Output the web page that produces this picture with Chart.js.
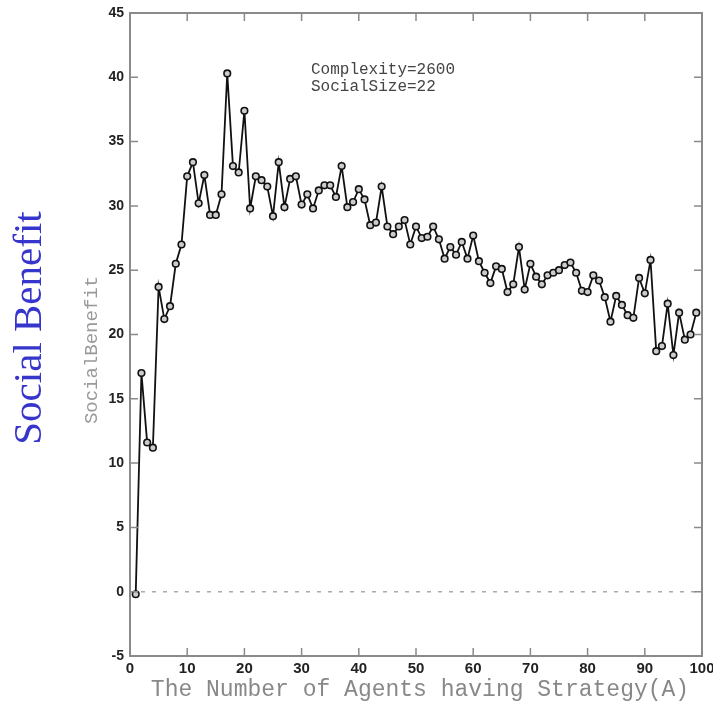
<!DOCTYPE html>
<html>
<head>
<meta charset="utf-8">
<script src="https://cdn.jsdelivr.net/npm/chart.js@4"></script>
<style>
  html, body { margin: 0; padding: 0; background: #fff; }
  #chart { display: block; }
</style>
</head>
<body>
<canvas id="chart" width="713" height="707"></canvas>
<script>
// social benefit for 1..99 agents having strategy A
const firstAgent = 1
const socialBenefit = [
  -0.2, 17.0, 11.6, 11.2, 23.7, 21.2, 22.2, 25.5, 27.0, 32.3,
  33.4, 30.2, 32.4, 29.3, 29.3, 30.9, 40.3, 33.1, 32.6, 37.4,
  29.8, 32.3, 32.0, 31.5, 29.2, 33.4, 29.9, 32.1, 32.3, 30.1,
  30.9, 29.8, 31.2, 31.6, 31.6, 30.7, 33.1, 29.9, 30.3, 31.3,
  30.5, 28.5, 28.7, 31.5, 28.4, 27.8, 28.4, 28.9, 27.0, 28.4,
  27.5, 27.6, 28.4, 27.4, 25.9, 26.8, 26.2, 27.2, 25.9, 27.7,
  25.7, 24.8, 24.0, 25.3, 25.1, 23.3, 23.9, 26.8, 23.5, 25.5,
  24.5, 23.9, 24.6, 24.8, 25.0, 25.4, 25.6, 24.8, 23.4, 23.3,
  24.6, 24.2, 22.9, 21.0, 23.0, 22.3, 21.5, 21.3, 24.4, 23.2,
  25.8, 18.7, 19.1, 22.4, 18.4, 21.7, 19.6, 20.0, 21.7
]
const zeroLine = [{x: 0, y: 0}, {x: 100, y: 0}]
const xTicks = [0, 10, 20, 30, 40, 50, 60, 70, 80, 90, 100]
const yTicks = [-5, 0, 5, 10, 15, 20, 25, 30, 35, 40, 45]
const noteLines = ['Complexity=2600', 'SocialSize=22']

const points = socialBenefit.map((v, i) => ({x: firstAgent + i, y: v}))

const frameColor = '#8a8a8a'

// frame box, inward ticks and the extra texts
const framePlugin = {
  id: 'frame',
  afterDatasetsDraw(chart) {
    const {ctx, chartArea: a, scales} = chart
    ctx.save()
    ctx.strokeStyle = frameColor
    ctx.lineWidth = 2
    ctx.strokeRect(a.left, a.top, a.right - a.left, a.bottom - a.top)
    ctx.lineWidth = 1.5
    const tl = 8
    ctx.beginPath()
    xTicks.slice(1, -1).forEach(t => {
      const px = scales.x.getPixelForValue(t)
      ctx.moveTo(px, a.bottom); ctx.lineTo(px, a.bottom - tl)
      ctx.moveTo(px, a.top); ctx.lineTo(px, a.top + tl)
    })
    yTicks.slice(1, -1).forEach(t => {
      const py = scales.y.getPixelForValue(t)
      ctx.moveTo(a.left, py); ctx.lineTo(a.left + tl, py)
      ctx.moveTo(a.right, py); ctx.lineTo(a.right - tl, py)
    })
    ctx.stroke()

    // note in the plot
    ctx.fillStyle = '#444'
    ctx.font = '16px "Liberation Mono", "DejaVu Sans Mono", monospace'
    ctx.textBaseline = 'middle'
    ctx.textAlign = 'left'
    noteLines.forEach((s, i) => ctx.fillText(s, 311, 70 + i * 17))

    // x title
    ctx.fillStyle = '#888'
    ctx.font = '23px "Liberation Mono", monospace'
    ctx.textAlign = 'center'
    ctx.fillText('The Number of Agents having Strategy(A)', 420, 690)

    // inner y title
    ctx.save()
    ctx.translate(92, 350)
    ctx.rotate(-Math.PI / 2)
    ctx.font = '19px "Liberation Mono", monospace'
    ctx.fillStyle = '#999'
    ctx.fillText('SocialBenefit', 0, 0)
    ctx.restore()

    // outer y title
    ctx.save()
    ctx.translate(30, 328)
    ctx.rotate(-Math.PI / 2)
    ctx.font = '41px "Liberation Serif", "Times New Roman", serif'
    ctx.fillStyle = '#3636cc'
    ctx.fillText('Social Benefit', 0, 0)
    ctx.restore()
    ctx.restore()
  }
}

new Chart(document.getElementById('chart').getContext('2d'), {
  type: 'line',
  data: {
    datasets: [
      {
        data: zeroLine,
        borderColor: '#aaa',
        borderWidth: 1.5,
        borderDash: [4, 7],
        pointRadius: 0,
        order: 2
      },
      {
        data: points,
        borderColor: '#111',
        borderWidth: 1.8,
        pointRadius: 3.3,
        pointBorderWidth: 1.6,
        pointBorderColor: '#111',
        pointBackgroundColor: '#ccc',
        tension: 0,
        order: 1
      }
    ]
  },
  options: {
    responsive: false,
    animation: false,
    layout: { padding: { left: 0, top: 13, right: 11, bottom: 0 } },
    plugins: { legend: { display: false }, tooltip: { enabled: false } },
    scales: {
      x: {
        type: 'linear',
        min: 0, max: 100,
        grid: { display: false, drawTicks: false },
        border: { display: false },
        afterFit: s => { s.height = 51; s.paddingLeft = 0; s.paddingRight = 0 },
        afterBuildTicks: s => { s.ticks = xTicks.map(v => ({value: v})) },
        ticks: {
          padding: 4,
          color: '#222',
          maxRotation: 0,
          font: { family: '"Liberation Sans", Arial, sans-serif', size: 15, weight: 'bold' }
        }
      },
      y: {
        min: -5, max: 45,
        grid: { display: false, drawTicks: false },
        border: { display: false },
        afterFit: s => { s.width = 130; s.paddingTop = 0; s.paddingBottom = 0 },
        afterBuildTicks: s => { s.ticks = yTicks.map(v => ({value: v})) },
        ticks: {
          padding: 6,
          color: '#222',
          font: { family: '"Liberation Sans", Arial, sans-serif', size: 14, weight: 'bold' }
        }
      }
    }
  },
  plugins: [framePlugin]
})
</script>
</body>
</html>
